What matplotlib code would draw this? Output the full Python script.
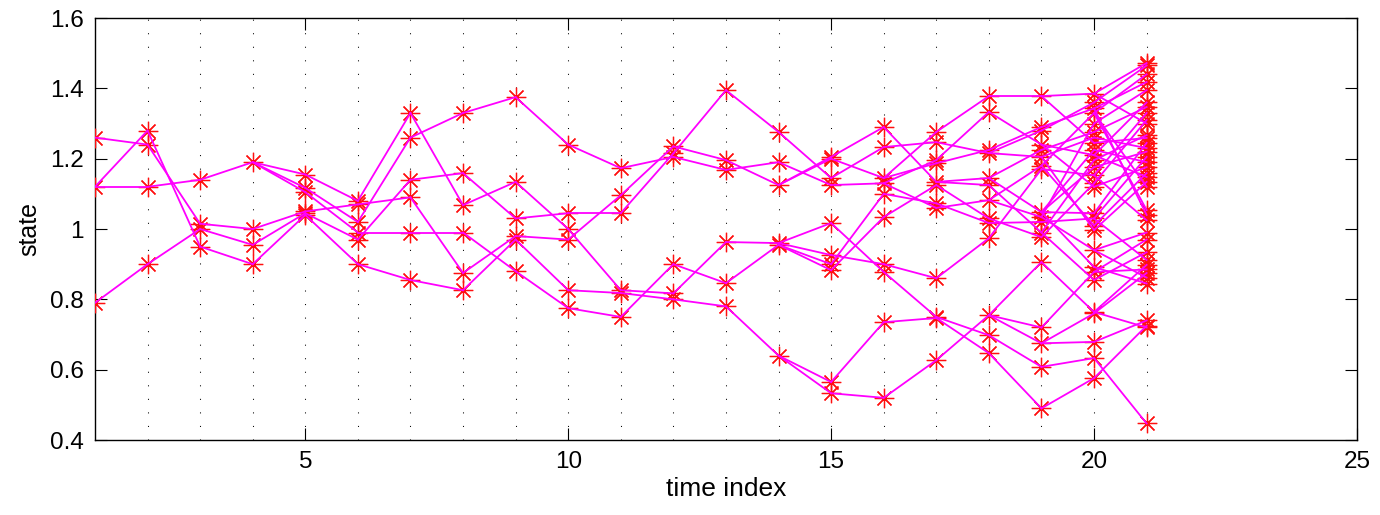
import matplotlib
matplotlib.use("Agg")
import matplotlib.pyplot as plt

plt.rcParams['font.family'] = ['Liberation Sans', 'DejaVu Sans']

# Particle states at each time index (1..21)
states = [
    [1.26, 1.12, 0.79],
    [1.28, 1.24, 1.12, 0.90],
    [1.14, 1.015, 1.00, 0.95],
    [1.19, 1.00, 0.955, 0.90],
    [1.155, 1.117, 1.105, 1.05, 1.045, 1.04],
    [1.08, 1.07, 1.02, 0.99, 0.97, 0.90],
    [1.33, 1.26, 1.14, 1.09, 0.99, 0.855],
    [1.33, 1.159, 1.068, 0.99, 0.875, 0.826],
    [1.375, 1.134, 1.03, 0.98, 0.97, 0.88],
    [1.24, 1.045, 1.00, 0.97, 0.826, 0.775],
    [1.173, 1.096, 1.045, 0.826, 0.818, 0.75],
    [1.235, 1.215, 1.205, 0.90, 0.817, 0.80],
    [1.395, 1.196, 1.168, 0.963, 0.846, 0.78],
    [1.276, 1.19, 1.125, 0.96, 0.955, 0.64],
    [1.205, 1.20, 1.145, 1.125, 1.017, 0.926, 0.90, 0.883, 0.565, 0.533],
    [1.29, 1.233, 1.145, 1.13, 1.10, 1.034, 0.90, 0.878, 0.735, 0.52],
    [1.276, 1.247, 1.196, 1.187, 1.134, 1.125, 1.073, 1.06, 0.86, 0.75,
     0.747, 0.627],
    [1.378, 1.333, 1.225, 1.216, 1.145, 1.125, 1.082, 1.03, 1.017, 0.974,
     0.755, 0.698, 0.647],
    [1.378, 1.29, 1.28, 1.24, 1.225, 1.205, 1.18, 1.17, 1.048, 1.034,
     1.02, 0.99, 0.977, 0.906, 0.72, 0.675, 0.608, 0.49],
    [1.385, 1.36, 1.343, 1.33, 1.30, 1.276, 1.26, 1.245, 1.225, 1.21,
     1.196, 1.176, 1.153, 1.13, 1.12, 1.045, 1.03, 1.01, 0.997, 0.94,
     0.892, 0.878, 0.855, 0.764, 0.76, 0.679, 0.633, 0.576],
    [1.472, 1.465, 1.44, 1.418, 1.395, 1.36, 1.347, 1.33, 1.31, 1.30,
     1.267, 1.259, 1.245, 1.23, 1.22, 1.205, 1.19, 1.176, 1.159, 1.148,
     1.134, 1.12, 1.054, 1.04, 1.025, 0.99, 0.97, 0.934, 0.912, 0.898,
     0.885, 0.875, 0.862, 0.845, 0.74, 0.725, 0.72, 0.447],
]

# Ancestor index (into the previous time's states) of each particle
ancestors = [
    [],
    [1, 0, 1, 2],
    [2, 1, 3, 0],
    [0, 1, 2, 3],
    [0, 0, 0, 1, 2, 3],
    [0, 3, 1, 2, 4, 5],
    [0, 2, 4, 1, 3, 5],
    [1, 2, 0, 4, 3, 5],
    [0, 2, 1, 4, 5, 3],
    [0, 2, 1, 3, 4, 5],
    [0, 3, 1, 2, 4, 5],
    [1, 2, 0, 5, 3, 4],
    [1, 0, 2, 4, 3, 5],
    [0, 2, 1, 3, 4, 5],
    [2, 2, 0, 1, 3, 3, 4, 4, 5, 5],
    [0, 2, 1, 3, 6, 7, 5, 4, 8, 9],
    [2, 1, 3, 2, 0, 5, 4, 3, 6, 7, 8, 9],
    [0, 2, 3, 1, 4, 4, 7, 5, 6, 8, 11, 9, 10],
    [0, 2, 3, 1, 4, 3, 6, 9, 4, 6, 8, 5, 7, 10, 10, 10, 11, 12],
    [0, 2, 1, 6, 9, 4, 5, 0, 8, 3, 11, 8, 7, 12, 3, 8, 10, 6, 5, 9,
     8, 14, 11, 13, 15, 15, 16, 17],
    [0, 1, 3, 2, 4, 9, 5, 12, 13, 0, 10, 7, 15, 6, 11, 16, 8, 14, 17, 9,
     18, 3, 3, 2, 12, 19, 21, 22, 16, 23, 21, 24, 19, 20, 25, 27, 23, 26],
]

time_index = list(range(1, len(states) + 1))
x_ticks = [5, 10, 15, 20, 25]
y_ticks = [0.4, 0.6, 0.8, 1.0, 1.2, 1.4, 1.6]
y_tick_labels = ['0.4', '0.6', '0.8', '1', '1.2', '1.4', '1.6']

fig = plt.figure(figsize=(13.8, 5.15), dpi=100)
ax = fig.add_axes([0.0688, 0.1456, 0.9145, 0.8194])

# dotted guide at every time step
for t in time_index[1:]:
    ax.axvline(t, color='black', lw=0.75, linestyle=(0, (1, 12)), zorder=1)

star = (8, 2, 0)
for k, t in enumerate(time_index):
    ax.plot([t] * len(states[k]), states[k], linestyle='none', marker=star,
            markersize=14, markeredgewidth=0.9, color='#ff1010', zorder=3)
    if k > 0:
        for v, p in zip(states[k], ancestors[k]):
            ax.plot([t - 1, t], [states[k - 1][p], v], color='#ff00ff',
                    lw=1.3, zorder=4)

ax.set_xlim(1, 25)
ax.set_ylim(0.4, 1.6)
ax.set_xticks(x_ticks)
ax.set_yticks(y_ticks)
ax.set_yticklabels(y_tick_labels)
ax.tick_params(direction='in', length=8.5, width=0.8, top=True, right=True,
               labelsize=17.5, pad=8)
for s in ax.spines.values():
    s.set_linewidth(1.0)
ax.set_xlabel('time index', fontsize=19, labelpad=3)
ax.set_ylabel('state', fontsize=18, labelpad=6)

fig.savefig('out.png', dpi=100)
